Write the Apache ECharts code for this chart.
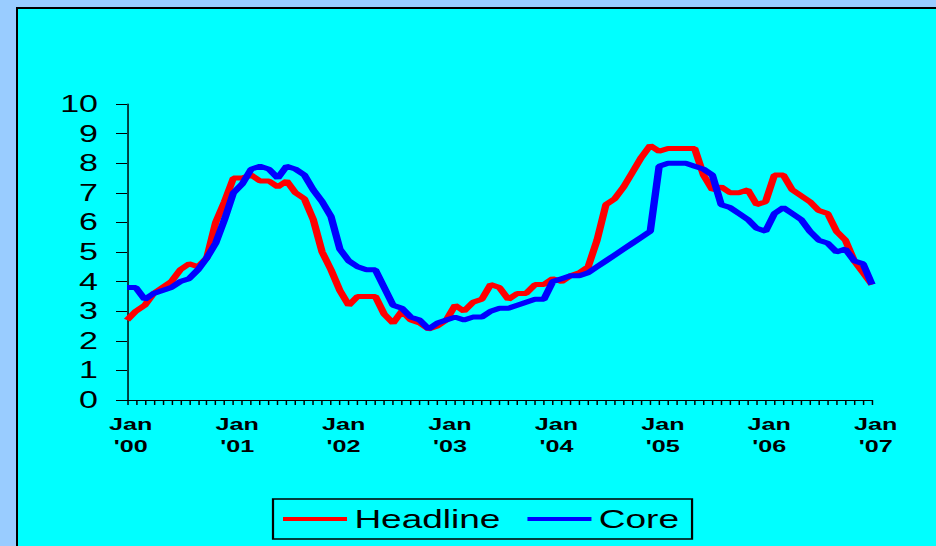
<!DOCTYPE html>
<html>
<head>
<meta charset="utf-8">
<script src="https://cdn.jsdelivr.net/npm/echarts@6/dist/echarts.min.js"></script>
<style>
	html, body { margin: 0; padding: 0; }
	body { width: 936px; height: 546px; overflow: hidden; background: #99CCFF; position: relative; }
	#panel { position: absolute; left: 16px; top: 7px; width: 920px; height: 539px; box-sizing: border-box;
		background: #00FFFF; border-left: 2px solid #000; border-top: 2px solid #000; }
	/* the original picture is stretched sideways, so the chart is drawn narrow and widened */
	#chart { position: absolute; left: 0; top: 0; height: 546px; transform-origin: 0 0; }
</style>
</head>
<body>
<div id="panel"></div>
<div id="chart"></div>
<script>
var SX = 1.48;

// tick labels
var years = ["'00", "'01", "'02", "'03", "'04", "'05", "'06", "'07"];
var months = ["Jan", "Feb", "Mar", "Apr", "May", "Jun", "Jul", "Aug", "Sep", "Oct", "Nov", "Dec"];

// monthly, Jan '00 .. Jan '07
var headline = [
	2.7, 3.0, 3.2, 3.6, 3.8, 4.0, 4.4, 4.6, 4.5, 4.8,
	6.0, 6.7, 7.5, 7.5, 7.6, 7.4, 7.4, 7.2, 7.4, 7.0,
	6.8, 6.1, 5.0, 4.4, 3.7, 3.2, 3.5, 3.5, 3.5, 2.9,
	2.6, 3.0, 2.7, 2.6, 2.4, 2.5, 2.7, 3.2, 3.0, 3.3,
	3.4, 3.9, 3.8, 3.4, 3.6, 3.6, 3.9, 3.9, 4.1, 4.0,
	4.2, 4.3, 4.5, 5.4, 6.6, 6.8, 7.2, 7.7, 8.2, 8.6,
	8.4, 8.5, 8.5, 8.5, 8.5, 7.6, 7.1, 7.2, 7.0, 7.0,
	7.1, 6.6, 6.7, 7.6, 7.6, 7.1, 6.9, 6.7, 6.4, 6.3,
	5.7, 5.4, 4.7, 4.3, 3.9
];
var core = [
	3.8, 3.8, 3.4, 3.6, 3.7, 3.8, 4.0, 4.1, 4.4, 4.8,
	5.3, 6.1, 7.0, 7.3, 7.8, 7.9, 7.8, 7.5, 7.9, 7.8,
	7.6, 7.1, 6.7, 6.2, 5.1, 4.7, 4.5, 4.4, 4.4, 3.8,
	3.2, 3.1, 2.8, 2.7, 2.4, 2.6, 2.7, 2.8, 2.7, 2.8,
	2.8, 3.0, 3.1, 3.1, 3.2, 3.3, 3.4, 3.4, 4.0, 4.1,
	4.2, 4.2, 4.3, 4.5, 4.7, 4.9, 5.1, 5.3, 5.5, 5.7,
	7.9, 8.0, 8.0, 8.0, 7.9, 7.8, 7.6, 6.6, 6.5, 6.3,
	6.1, 5.8, 5.7, 6.3, 6.5, 6.3, 6.1, 5.7, 5.4, 5.3,
	5.0, 5.1, 4.7, 4.6, 3.9
];

var categories = [];
for (var y = 0; y < years.length; y++) {
	for (var m = 0; m < 12; m++) {
		if (categories.length < headline.length) categories.push(months[m] + "\n" + years[y]);
	}
}

var W = 936 / SX;
var el = document.getElementById("chart");
el.style.width = W + "px";
el.style.transform = "scaleX(" + SX + ")";

var myChart = echarts.init(el, null, { renderer: "svg", width: W, height: 546 });
var font = "'Liberation Sans', Arial, sans-serif";

myChart.setOption({
	animation: false,
	backgroundColor: "transparent",
	textStyle: { fontFamily: font },
	grid: {
		left: 127 / SX,
		right: W - 872 / SX,
		top: 104,
		bottom: 146
	},
	legend: {
		data: ["Headline", "Core"],
		left: 273 / SX,
		top: 499,
		orient: "horizontal",
		icon: "rect",
		itemWidth: 64 / SX,
		itemHeight: 4,
		itemGap: 27 / SX,
		padding: [6, 13 / SX, 6, 10 / SX],
		borderColor: "#000",
		borderWidth: 1.5,
		borderRadius: 0,
		textStyle: { fontFamily: font, fontSize: 25, color: "#000", lineHeight: 28 }
	},
	xAxis: {
		type: "category",
		data: categories,
		boundaryGap: false,
		axisLine: { lineStyle: { color: "#000", width: 1 } },
		axisTick: { interval: 0, length: 5, lineStyle: { color: "#000", width: 1 } },
		axisLabel: {
			interval: 11,
			margin: 13,
			padding: [0, 0, 0, 5],
			fontFamily: font,
			fontSize: 17,
			fontWeight: "bold",
			lineHeight: 22,
			color: "#000"
		},
		splitLine: { show: false }
	},
	yAxis: {
		type: "value",
		min: 0,
		max: 10,
		interval: 1,
		axisLine: { show: true, lineStyle: { color: "#000", width: 1 } },
		axisTick: { show: true, length: 11 / SX, lineStyle: { color: "#000", width: 1 } },
		axisLabel: { margin: 29 / SX, fontFamily: font, fontSize: 23, color: "#000" },
		splitLine: { show: false }
	},
	series: [
		{
			name: "Headline",
			type: "line",
			data: headline,
			symbol: "none",
			color: "#FF0000",
			lineStyle: { color: "#FF0000", width: 5 }
		},
		{
			name: "Core",
			type: "line",
			data: core,
			symbol: "none",
			color: "#0000FF",
			lineStyle: { color: "#0000FF", width: 5 }
		}
	]
});
</script>
</body>
</html>
